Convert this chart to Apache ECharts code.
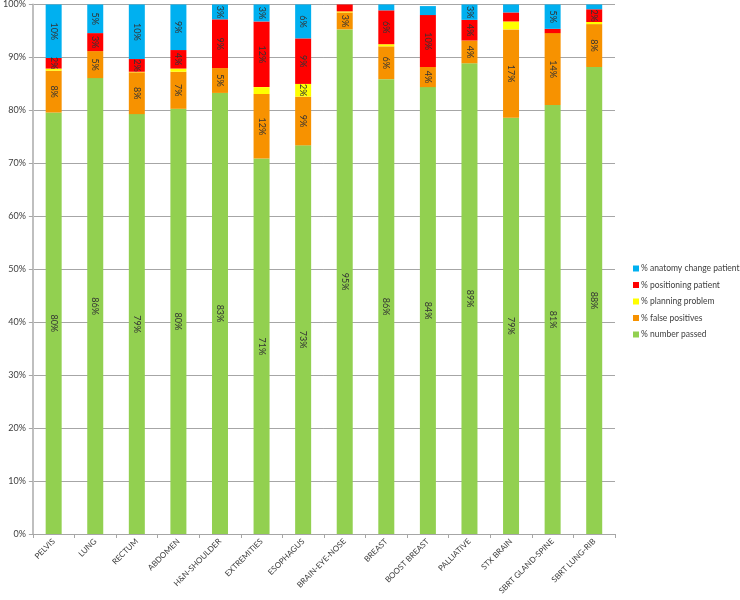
<!DOCTYPE html>
<html>
<head>
<meta charset="utf-8">
<script src="https://cdn.jsdelivr.net/npm/echarts@6/dist/echarts.min.js"></script>
<style>html,body{margin:0;padding:0;background:#fff}#c{width:740px;height:600px}</style>
</head>
<body>
<div id="c"></div>
<script>
var categories = ['PELVIS','LUNG','RECTUM','ABDOMEN','H&N-SHOULDER','EXTREMITIES','ESOPHAGUS','BRAIN-EYE-NOSE','BREAST','BOOST BREAST','PALLIATIVE','STX BRAIN','SBRT GLAND-SPINE','SBRT LUNG-RIB'];
var numberPassed   = [79.6, 86.1, 79.3, 80.3, 83.3, 70.9, 73.4, 95.3, 85.9, 84.4, 88.9, 78.6, 81.0, 88.2];
var falsePositives = [7.9, 5.1, 7.9, 7.0, 4.7, 12.2, 9.2, 3.2, 6.2, 3.8, 4.3, 16.7, 13.6, 8.1];
var planningProblem= [0.4, 0.0, 0.1, 0.6, 0.0, 1.3, 2.4, 0.2, 0.4, 0.0, 0.0, 1.5, 0.0, 0.4];
var positioning    = [2.0, 3.4, 2.4, 3.5, 9.2, 12.4, 8.6, 1.3, 6.4, 9.8, 3.9, 1.7, 0.8, 2.4];
var anatomyChange  = [10.1, 5.4, 10.3, 8.6, 2.8, 3.2, 6.4, 0.0, 1.1, 1.7, 2.9, 1.5, 4.6, 0.9];
var yTicks = ['0%','10%','20%','30%','40%','50%','60%','70%','80%','90%','100%'];

var FONT = 'Lato, "Open Sans", sans-serif';
function mk(name, data, color) {
  return {
    name: name, type: 'bar', stack: 'total', data: data, barWidth: 16,
    itemStyle: { color: color },
    label: {
      show: true, position: 'inside', rotate: -90,
      fontSize: 9, fontFamily: FONT, color: '#333',
      formatter: function (p) { return p.value >= 1.8 ? Math.round(p.value) + '%' : ''; }
    }
  };
}
var chart = echarts.init(document.getElementById('c'), null, { renderer: 'canvas' });
chart.setOption({
  animation: false,
  grid: { left: 30, right: 125, top: 3, bottom: 66, containLabel: false },
  legend: {
    orient: 'vertical', left: 628, top: 259,
    itemWidth: 6, itemHeight: 6, itemGap: 7.5, icon: 'rect',
    textStyle: { fontSize: 8.5, fontFamily: FONT, color: '#404040', padding: [0, 0, 0, -3] },
    data: ['% anatomy change patient','% positioning patient','% planning problem','% false positives','% number passed']
  },
  xAxis: {
    type: 'category', data: categories,
    axisLine: { lineStyle: { color: '#a6a6a6' } },
    axisTick: { show: true, length: 4, lineStyle: { color: '#a6a6a6' } },
    axisLabel: { rotate: 45, fontSize: 8, fontFamily: FONT, color: '#404040', margin: 6, interval: 0 }
  },
  yAxis: {
    type: 'value', min: 0, max: 100, interval: 10,
    axisLine: { show: true, lineStyle: { color: '#bfbfbf', width: 2 } },
    axisTick: { show: true, length: 4, lineStyle: { color: '#a6a6a6' } },
    splitLine: { lineStyle: { color: '#a6a6a6' } },
    axisLabel: { fontSize: 9, fontFamily: FONT, color: '#404040', margin: 7,
      formatter: function (v) { return yTicks[Math.round(v / 10)]; } }
  },
  series: [
    mk('% number passed', numberPassed, '#92D050'),
    mk('% false positives', falsePositives, '#F79200'),
    mk('% planning problem', planningProblem, '#FFFF00'),
    mk('% positioning patient', positioning, '#FF0000'),
    mk('% anatomy change patient', anatomyChange, '#00B0F0')
  ]
});
</script>
</body>
</html>
